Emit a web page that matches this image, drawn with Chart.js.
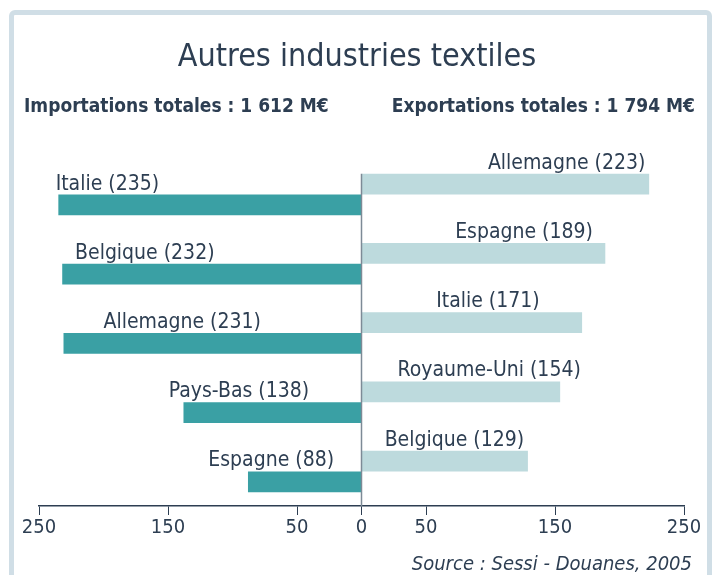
<!DOCTYPE html>
<html>
<head>
<meta charset="utf-8">
<script src="https://cdn.jsdelivr.net/npm/chart.js@4.4.0/dist/chart.umd.min.js"></script>
<style>
  html, body { margin: 0; padding: 0; background: #fff; }
  #frame {
    position: absolute; left: 9px; top: 10px; width: 693px; height: 600px;
    border: 5px solid #d0dee6; border-radius: 6px;
  }
  #wrap { position: absolute; left: 0; top: 0; width: 719px; height: 575px; }
</style>
</head>
<body>
<div id="frame"></div>
<div id="wrap"><canvas id="bars" width="719" height="575"></canvas></div>
<script>
const FONT = "'DejaVu Sans Condensed', 'DejaVu Sans', sans-serif";
const TEXT = "#2d3e52";

const title = "Autres industries textiles";
const importTotal = "Importations totales : 1 612 M€";
const exportTotal = "Exportations totales : 1 794 M€";
const source = "Source : Sessi - Douanes, 2005";

const importCountries = ["Italie", "Belgique", "Allemagne", "Pays-Bas", "Espagne"];
const importValues = [235, 232, 231, 138, 88];
const exportCountries = ["Allemagne", "Espagne", "Italie", "Royaume-Uni", "Belgique"];
const exportValues = [223, 189, 171, 154, 129];
const tickValues = [-250, -150, -50, 0, 50, 150, 250];

// where each label is centred, in axis units (labels were placed by hand)
const importLabelAt = [197, 168, 139, 95, 70];
const exportLabelAt = [159, 126, 98, 99, 72];

const textPlugin = {
  id: "texts",
  afterDatasetsDraw(chart) {
    const { ctx, scales: { x }, chartArea } = chart;
    const expMeta = chart.getDatasetMeta(0);
    const impMeta = chart.getDatasetMeta(1);

    // centre line, from the first bar down to the axis
    const top = expMeta.data[0].y - expMeta.data[0].height / 2;
    ctx.save();
    ctx.strokeStyle = "#7d8a96";
    ctx.lineWidth = 1.5;
    ctx.beginPath();
    ctx.moveTo(x.getPixelForValue(0), top);
    ctx.lineTo(x.getPixelForValue(0), chartArea.bottom);
    ctx.stroke();

    ctx.fillStyle = TEXT;
    ctx.textAlign = "center";
    ctx.textBaseline = "alphabetic";
    ctx.font = "21px " + FONT;
    impMeta.data.forEach((bar, i) => {
      const yTop = bar.y - bar.height / 2;
      ctx.fillText(importCountries[i] + " (" + importValues[i] + ")",
        x.getPixelForValue(-importLabelAt[i]), yTop - 5);
    });
    expMeta.data.forEach((bar, i) => {
      const yTop = bar.y - bar.height / 2;
      ctx.fillText(exportCountries[i] + " (" + exportValues[i] + ")",
        x.getPixelForValue(exportLabelAt[i]), yTop - 5);
    });

    ctx.font = "32px " + FONT;
    ctx.fillText(title, 357, 66);

    ctx.font = "bold 19px " + FONT;
    ctx.textAlign = "left";
    ctx.fillText(importTotal, 24, 112);
    ctx.textAlign = "right";
    ctx.fillText(exportTotal, 695, 112);

    ctx.font = "italic 20px " + FONT;
    ctx.fillText(source, 692, 570);
    ctx.restore();
  },
};

new Chart(document.getElementById("bars"), {
  type: "bar",
  data: {
    labels: importCountries.map((c, i) => i),
    datasets: [
      {
        label: "Exportations",
        data: exportValues,
        backgroundColor: "#bddadd",
        categoryPercentage: 0.6,
        barPercentage: 1.0,
      },
      {
        label: "Importations",
        data: importValues.map((v) => -v),
        backgroundColor: "#3aa0a4",
        categoryPercentage: 0.6,
        barPercentage: 1.0,
      },
    ],
  },
  options: {
    indexAxis: "y",
    responsive: false,
    animation: false,
    layout: { padding: { top: 160, left: 39, right: 35, bottom: 34 } },
    scales: {
      x: {
        min: -250,
        max: 250,
        afterBuildTicks: (axis) => {
          axis.ticks = tickValues.map((v) => ({ value: v }));
        },
        ticks: {
          color: TEXT,
          font: { family: FONT, size: 20 },
          padding: 1,
          maxRotation: 0,
          autoSkip: false,
          callback: (v) => Math.abs(v),
        },
        grid: {
          drawOnChartArea: false,
          tickLength: 9,
          color: "#2d3e52",
        },
        border: { color: "#2d3e52", width: 1.5 },
      },
      y: {
        display: false,
      },
    },
    plugins: {
      legend: { display: false },
      tooltip: { enabled: false },
    },
  },
  plugins: [textPlugin],
});
</script>
</body>
</html>
